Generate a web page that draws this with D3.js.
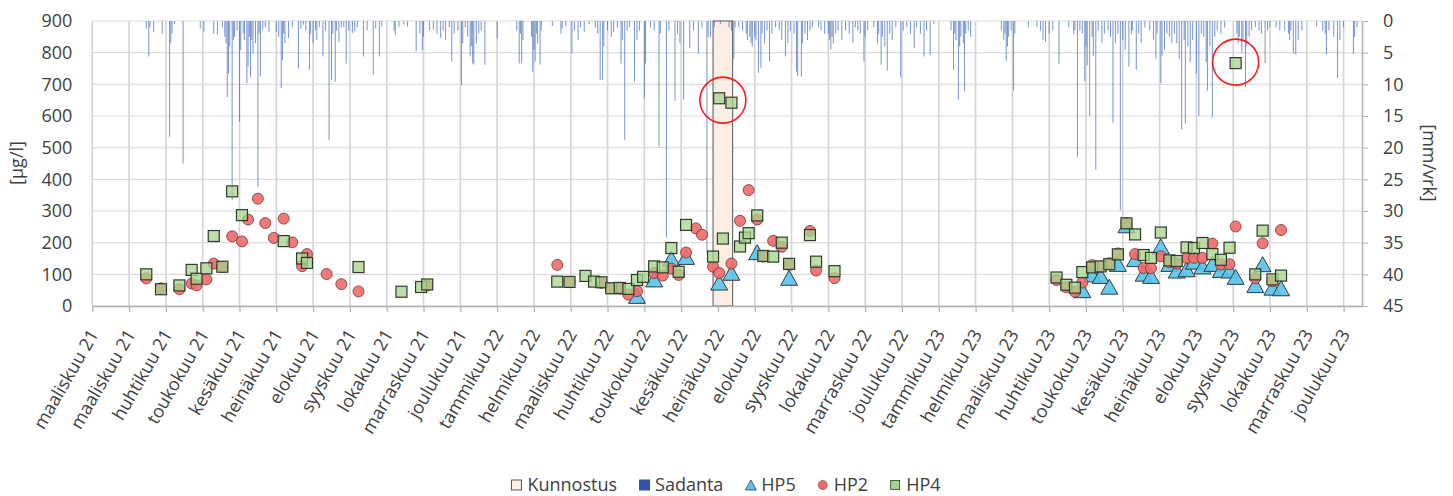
<!DOCTYPE html>
<html>
<head>
<meta charset="utf-8">
<script src="https://cdn.jsdelivr.net/npm/d3@7"></script>
<style>
body { margin: 0; background: #fff; }
svg text { font-family: "Open Sans", sans-serif; fill: #404040; }
</style>
</head>
<body>
<div id="chart"></div>
<script>
// x axis ticks (every 30 days, as in the original sheet)
var tickDates = ["2021-03-01","2021-03-31","2021-04-30","2021-05-30","2021-06-29","2021-07-29","2021-08-28",
	"2021-09-27","2021-10-27","2021-11-26","2021-12-26","2022-01-25","2022-02-24","2022-03-26","2022-04-25",
	"2022-05-25","2022-06-24","2022-07-24","2022-08-23","2022-09-22","2022-10-22","2022-11-21","2022-12-21",
	"2023-01-20","2023-02-19","2023-03-21","2023-04-20","2023-05-20","2023-06-19","2023-07-19","2023-08-18",
	"2023-09-17","2023-10-17","2023-11-16","2023-12-16"];
var monthNames = ["tammikuu","helmikuu","maaliskuu","huhtikuu","toukokuu","kesäkuu","heinäkuu",
	"elokuu","syyskuu","lokakuu","marraskuu","joulukuu"];
var yTicks = [0,100,200,300,400,500,600,700,800,900];
var rainTicks = [0,5,10,15,20,25,30,35,40,45];

// Kunnostus (restoration) period
var kunnostus = ["2022-07-20","2022-08-05"];

// Sadanta, [day counted from 2021-03-01, mm/vrk]
var rainStart = "2021-03-01";
var sadanta = [[44,1.2],[46,5.6],[47,1.0],[50,1.7],[57,2.0],[63,18.3],[64,3.5],[65,2.0],[67,0.5],[74,22.5],
	[88,1.2],[91,1.7],[99,2.0],[102,2.2],[106,1.0],[108,2.5],[109,3.5],[110,12],[111,8.3],[112,4.0],[114,28.3],
	[115,3.0],[116,2.5],[118,1.5],[120,15.9],[121,4.6],[123,2.0],[124,3.0],[126,9.8],[127,7.2],[128,2.5],[129,8.8],
	[130,3.0],[131,5.1],[133,3.5],[135,26.2],[136,2.0],[137,8.8],[139,1.4],[141,1.0],[144,1.7],[150,1.7],[152,2.5],
	[154,10.6],[155,6.2],[156,2.0],[157,3.5],[160,2.7],[163,1.0],[168,7.5],[170,1.2],[172,0.6],[174,1.5],[177,7.7],
	[178,2.0],[180,3.5],[182,1.5],[183,3.0],[185,1.0],[188,5.6],[190,1.5],[193,18.8],[195,9.3],[196,2.0],[198,9.6],
	[199,1.5],[201,3.3],[203,1.0],[205,1.0],[207,6.7],[209,1.5],[212,1.9],[214,1.7],[216,1.0],[221,5.6],[224,1.5],
	[229,8.5],[231,1.2],[234,5.6],[236,0.9],[246,1.5],[247,2.2],[250,0.9],[254,0.5],[257,0.9],[264,4.8],[267,2.0],
	[269,4.6],[270,2.5],[275,1.5],[278,1.4],[281,2.0],[284,2.7],[286,1.5],[288,3.0],[291,1.0],[293,6.4],[295,2.0],
	[298,1.5],[301,10.1],[302,3.5],[304,1.0],[306,2.5],[308,5.6],[309,4.0],[310,6.7],[311,6.9],[313,3.5],[315,2.0],
	[317,1.5],[320,6.9],[330,2.7],
	[346,1.5],[348,6.7],[349,2.0],[350,6.6],[351,3.0],[358,2.5],[359,8.0],[360,4.5],[361,6.4],[362,2.0],[363,3.5],
	[365,6.9],[366,1.5],[375,0.8],[382,2.0],[383,1.2],[386,0.8],[391,5.1],[393,1.5],[396,3.0],[398,1.0],[401,1.7],
	[405,0.5],[410,1.0],[412,2.0],[414,9.3],[416,9.3],[417,4.0],[420,1.5],[423,2.5],[425,1.7],[428,1.0],[431,6.7],
	[432,3.0],[434,18.8],[436,1.5],[438,1.0],[442,9.6],[444,3.0],[446,1.5],[450,12.2],[451,6.7],[455,1.0],[458,1.5],
	[462,19.8],[463,2.0],[468,34.2],[470,1.5],[475,12.6],[477,2.0],[479,3.5],[482,12.4],[487,4.3],[490,1.5],
	[494,5.2],[497,1.0],[501,36.6],[502,2.5],[504,2.5],[507,1.0],[512,0.5],[519,1.0],[521,1.5],[523,6.0],[524,1.0],
	[527,1.0],[530,1.5],[533,2.0],[534,3.0],[536,2.5],[537,3.5],[538,4.0],[540,2.5],[541,3.0],[543,8.2],[545,7.4],
	[546,2.0],[548,3.5],[550,1.5],[552,6.4],[554,2.0],[557,1.0],[560,1.5],[562,3.0],[565,5.6],[567,3.5],[569,1.5],
	[572,2.0],[574,8.0],[575,8.7],[578,8.8],[579,3.5],[581,2.0],[583,3.0],[585,1.5],[587,1.0],[592,1.0],[594,1.5],
	[597,2.0],[600,2.0],[601,3.0],[602,4.5],[603,2.5],[604,3.5],[606,2.0],[608,1.5],[611,3.0],[614,1.5],[617,2.0],
	[620,3.5],[622,1.0],[624,1.5],[626,2.0],[629,6.4],[630,2.5],[632,1.5],[637,1.0],[640,3.5],[641,2.0],[643,6.9],
	[644,2.5],[646,4.0],[648,7.8],[650,2.0],[652,3.0],[655,1.0],[659,8.9],[661,1.5],[664,1.0],[667,2.0],[670,4.3],
	[672,1.0],[675,2.0],[678,5.6],[680,1.5],[683,5.4],[686,0.5],
	[700,1.5],[702,7.7],[703,2.0],[704,3.0],[706,12.4],[707,4.0],[708,2.5],[710,3.5],[711,11.1],[712,2.0],[714,1.5],
	[716,2.5],[741,1.5],[743,3.0],[744,2.0],[745,6.3],[746,4.0],[747,2.5],[749,1.5],[751,11.0],[752,2.0],[763,1.0],
	[770,1.0],[773,1.5],[775,3.0],[777,3.3],[780,2.0],[783,1.5],[788,6.8],[796,1.0],[800,2.0],[801,1.5],[803,21.5],
	[805,1.5],[807,2.0],[809,9.5],[810,4.0],[811,7.0],[813,15.0],[815,2.5],[816,5.5],[818,23.5],[820,1.5],[823,3.5],
	[825,2.0],[828,1.5],[830,2.5],[832,16.1],[834,3.5],[836,2.0],[838,29.9],[840,3.0],[842,4.5],[845,7.2],[847,2.0],
	[848,1.5],[851,7.7],[853,2.0],[855,3.5],[858,1.0],[862,1.5],[865,3.0],[867,6.0],[868,2.0],[871,9.8],[872,5.5],
	[874,4.5],[876,2.0],[878,2.5],[880,3.5],[882,2.0],[884,3.5],[886,6.0],[888,17.1],[890,3.0],[891,16.2],[893,4.0],
	[895,6.5],[897,3.0],[900,8.3],[902,15.0],[904,2.0],[906,2.5],[908,6.5],[909,11.0],[911,4.0],[913,15.2],[915,2.5],
	[917,1.5],[920,2.0],[923,1.0],[933,2.0],[934,3.5],[935,2.5],[937,5.0],[938,3.0],[940,10.5],[941,4.0],[943,2.5],
	[945,1.5],[948,1.0],[951,1.5],[953,2.0],[956,6.6],[958,1.5],[960,1.0],[965,1.0],[968,1.5],[972,1.5],[975,2.0],
	[976,3.0],[977,1.5],[979,5.1],[981,5.3],[983,3.0],[986,1.5],[998,0.8],[1003,1.5],[1005,2.0],[1006,5.3],
	[1008,1.5],[1012,2.5],[1015,9.0],[1017,3.0],[1020,1.0],[1028,5.2],[1029,2.5],[1031,1.0]];

// HP5 [date, µg/l]
var hp5 = [["2022-05-19",32],["2022-06-02",84],["2022-06-16",150],["2022-06-28",155],["2022-07-25",74],
	["2022-08-04",105],["2022-08-25",170],["2022-09-20",89],
	["2023-05-17",50],["2023-05-25",100],["2023-06-01",95],["2023-06-08",61],["2023-06-15",133],["2023-06-22",255],
	["2023-06-29",148],["2023-07-06",102],["2023-07-12",95],["2023-07-20",188],["2023-07-27",133],["2023-08-02",112],
	["2023-08-10",116],["2023-08-16",140],["2023-08-23",125],["2023-08-31",133],["2023-09-07",114],["2023-09-14",112],
	["2023-09-19",92],["2023-10-05",66],["2023-10-11",132],["2023-10-19",58],["2023-10-26",56]];

// HP2 [date, µg/l]
var hp2 = [["2021-04-14",87],["2021-04-26",56],["2021-05-11",53],["2021-05-21",71],["2021-05-25",65],
	["2021-06-02",84],["2021-06-08",134],["2021-06-15",123],["2021-06-23",220],["2021-07-01",204],["2021-07-06",273],
	["2021-07-14",339],["2021-07-20",262],["2021-07-27",215],["2021-08-04",276],["2021-08-11",201],["2021-08-19",126],
	["2021-08-23",164],["2021-09-08",101],["2021-09-20",69],["2021-10-04",46],["2021-11-29",65],
	["2022-03-15",130],["2022-03-25",76],["2022-04-20",73],["2022-04-28",56],["2022-05-05",54],["2022-05-12",36],
	["2022-05-19",47],["2022-06-02",104],["2022-06-09",96],["2022-06-16",118],["2022-06-22",98],["2022-06-28",169],
	["2022-07-06",245],["2022-07-11",225],["2022-07-20",124],["2022-07-25",104],["2022-08-04",134],["2022-08-11",269],
	["2022-08-18",366],["2022-08-25",273],["2022-08-30",156],["2022-09-07",206],["2022-09-14",187],["2022-09-20",130],
	["2022-10-07",237],["2022-10-12",112],["2022-10-27",88],
	["2023-04-26",82],["2023-05-04",59],["2023-05-11",45],["2023-05-17",74],["2023-05-25",129],["2023-06-01",124],
	["2023-06-08",135],["2023-06-15",166],["2023-06-22",262],["2023-06-29",164],["2023-07-06",120],["2023-07-12",119],
	["2023-07-20",157],["2023-07-27",138],["2023-08-02",134],["2023-08-10",152],["2023-08-16",152],["2023-08-23",152],
	["2023-08-31",197],["2023-09-07",131],["2023-09-14",132],["2023-09-19",251],["2023-10-05",88],["2023-10-11",198],
	["2023-10-19",78],["2023-10-26",240]];

// HP4 [date, µg/l]
var hp4 = [["2021-04-14",100],["2021-04-26",53],["2021-05-11",65],["2021-05-21",114],["2021-05-25",86],
	["2021-06-02",119],["2021-06-08",221],["2021-06-15",124],["2021-06-23",362],["2021-07-01",287],["2021-08-04",205],
	["2021-08-19",150],["2021-08-23",136],["2021-10-04",123],["2021-11-08",45],["2021-11-24",60],["2021-11-29",68],
	["2022-03-15",77],["2022-03-25",76],["2022-04-07",95],["2022-04-14",77],["2022-04-20",75],["2022-04-28",56],
	["2022-05-05",57],["2022-05-12",54],["2022-05-19",82],["2022-05-24",92],["2022-06-02",125],["2022-06-09",122],
	["2022-06-16",183],["2022-06-22",108],["2022-06-28",256],["2022-07-20",156],["2022-07-25",656],["2022-07-28",213],
	["2022-08-04",642],["2022-08-11",188],["2022-08-15",216],["2022-08-18",230],["2022-08-25",286],["2022-08-30",158],
	["2022-09-07",156],["2022-09-14",200],["2022-09-20",133],["2022-10-07",224],["2022-10-12",140],["2022-10-27",110],
	["2023-04-26",90],["2023-05-04",67],["2023-05-11",58],["2023-05-17",107],["2023-05-25",122],["2023-06-01",125],
	["2023-06-08",132],["2023-06-15",163],["2023-06-22",261],["2023-06-29",226],["2023-07-06",161],["2023-07-12",152],
	["2023-07-20",232],["2023-07-27",144],["2023-08-02",142],["2023-08-10",185],["2023-08-16",183],["2023-08-23",199],
	["2023-08-31",164],["2023-09-07",146],["2023-09-14",184],["2023-09-19",767],["2023-10-05",100],["2023-10-11",238],
	["2023-10-19",84],["2023-10-26",96]];

// red rings drawn around the outliers
var highlights = [["2022-07-28",650],["2023-09-19",770]];

var legendItems = ["Kunnostus","Sadanta","HP5","HP2","HP4"];

var W = 1453, H = 496;
// plot area (note: "top" is reserved on window, so use other names)
var plotL = 92.3, plotR = 1362, plotT = 21, plotB = 306;
var parse = d3.utcParse("%Y-%m-%d");

var x = d3.scaleUtc().domain([parse("2021-03-01"), parse("2023-12-31")]).range([plotL, plotR]);
var y = d3.scaleLinear().domain([0, 900]).range([plotB, plotT]);
var yR = d3.scaleLinear().domain([0, 45]).range([plotT, plotB]);

var svg = d3.select("#chart").append("svg")
	.attr("width", W)
	.attr("height", H);

// grid
svg.append("g").selectAll("line").data(yTicks).enter()
	.append("line")
	.attr("x1", plotL).attr("x2", plotR)
	.attr("y1", function(d) { return y(d); })
	.attr("y2", function(d) { return y(d); })
	.attr("stroke", "#dcdcdc")
	.attr("stroke-width", 1.2);
svg.append("g").selectAll("line").data(tickDates).enter()
	.append("line")
	.attr("x1", function(d) { return x(parse(d)); })
	.attr("x2", function(d) { return x(parse(d)); })
	.attr("y1", plotT).attr("y2", plotB)
	.attr("stroke", "#d4d4d4")
	.attr("stroke-width", 1.6);

// kunnostus period
svg.append("rect")
	.attr("x", x(parse(kunnostus[0])))
	.attr("width", x(parse(kunnostus[1])) - x(parse(kunnostus[0])))
	.attr("y", y(900))
	.attr("height", y(0) - y(900))
	.attr("fill", "#fdeee4")
	.attr("stroke", "#555")
	.attr("stroke-width", 1);

// rain bars hanging from the top
var start = parse(rainStart);
svg.append("g").selectAll("rect").data(sadanta).enter()
	.append("rect")
	.attr("x", function(d) { return x(d3.utcDay.offset(start, d[0])) - 0.5; })
	.attr("y", yR(0))
	.attr("width", 1)
	.attr("height", function(d) { return yR(d[1]) - yR(0); })
	.attr("fill", "#4a70bf")
	.attr("opacity", 0.75);

// axes
var fmt = function(d) { return monthNames[d.getUTCMonth()] + " " + String(d.getUTCFullYear()).slice(2); };
var xAxis = svg.append("g")
	.attr("transform", "translate(0," + plotB + ")")
	.call(d3.axisBottom(x).tickValues(tickDates.map(parse)).tickFormat(fmt).tickSize(6).tickSizeOuter(0));
xAxis.select(".domain").attr("stroke", "#b0b0b0").attr("stroke-width", 1.5);
xAxis.selectAll(".tick line").attr("stroke", "#b0b0b0").attr("stroke-width", 1.2);
xAxis.selectAll(".tick text")
	.attr("x", 0).attr("y", 0).attr("dy", "0.35em")
	.attr("transform", "translate(1,25) rotate(-60)")
	.attr("text-anchor", "end")
	.style("font-size", "18px");

var yAxis = svg.append("g")
	.attr("transform", "translate(" + plotL + ",0)")
	.call(d3.axisLeft(y).tickValues(yTicks).tickSize(0).tickPadding(20));
yAxis.select(".domain").remove();
yAxis.selectAll("text").style("font-size", "18px");

var rAxis = svg.append("g")
	.attr("transform", "translate(" + plotR + ",0)")
	.call(d3.axisRight(yR).tickValues(rainTicks).tickSize(6).tickSizeOuter(0).tickPadding(15));
rAxis.select(".domain").attr("stroke", "#b0b0b0").attr("stroke-width", 1.5);
rAxis.selectAll(".tick line").attr("stroke", "#b0b0b0");
rAxis.selectAll("text").style("font-size", "18px");

svg.selectAll(".tick text").attr("fill", "#404040").attr("font-family", "Open Sans, sans-serif");

svg.append("text")
	.attr("transform", "translate(23,163) rotate(-90)")
	.attr("text-anchor", "middle")
	.style("font-size", "18px")
	.text("[µg/l]");
svg.append("text")
	.attr("transform", "translate(1423,163) rotate(90)")
	.attr("text-anchor", "middle")
	.style("font-size", "18px")
	.text("[mm/vrk]");

// markers
var tri = "M0,-7.5L8.5,7.5L-8.5,7.5Z";
svg.append("g").selectAll("path").data(hp5).enter()
	.append("path")
	.attr("d", tri)
	.attr("transform", function(d) { return "translate(" + x(parse(d[0])) + "," + y(d[1]) + ")"; })
	.attr("fill", "#55c4ee")
	.attr("fill-opacity", 0.9)
	.attr("stroke", "#3a3a3a")
	.attr("stroke-width", 1);

svg.append("g").selectAll("circle").data(hp2).enter()
	.append("circle")
	.attr("cx", function(d) { return x(parse(d[0])); })
	.attr("cy", function(d) { return y(d[1]); })
	.attr("r", 5.5)
	.attr("fill", "#f26a6a")
	.attr("fill-opacity", 0.9)
	.attr("stroke", "#6e3434")
	.attr("stroke-width", 0.8);

svg.append("g").selectAll("rect").data(hp4).enter()
	.append("rect")
	.attr("x", function(d) { return x(parse(d[0])) - 5.5; })
	.attr("y", function(d) { return y(d[1]) - 5.5; })
	.attr("width", 11)
	.attr("height", 11)
	.attr("fill", "#a6d38a")
	.attr("fill-opacity", 0.75)
	.attr("stroke", "#2f3a2f")
	.attr("stroke-width", 1.2);

svg.append("g").selectAll("circle").data(highlights).enter()
	.append("circle")
	.attr("cx", function(d) { return x(parse(d[0])); })
	.attr("cy", function(d) { return y(d[1]); })
	.attr("r", 23)
	.attr("fill", "none")
	.attr("stroke", "#ff1a1a")
	.attr("stroke-width", 1.6);

// legend
var legend = svg.append("g");
var lx = 0;
legendItems.forEach(function(name, i) {
	var g = legend.append("g").attr("transform", "translate(" + lx + ",0)");
	if (i == 0) {
		g.append("rect").attr("x", 0).attr("y", -5).attr("width", 10).attr("height", 10)
			.attr("fill", "#fdeee4").attr("stroke", "#555");
	} else if (i == 1) {
		g.append("rect").attr("x", 0).attr("y", -5.5).attr("width", 11).attr("height", 11)
			.attr("fill", "#2f55a4");
	} else if (i == 2) {
		g.append("path").attr("d", "M5.5,-5L11,5L0,5Z").attr("fill", "#55c4ee").attr("stroke", "#3a3a3a").attr("stroke-width", 0.8);
	} else if (i == 3) {
		g.append("circle").attr("cx", 5).attr("cy", 0).attr("r", 4.5).attr("fill", "#f26a6a").attr("stroke", "#6e3434").attr("stroke-width", 0.6);
	} else {
		g.append("rect").attr("x", 0.5).attr("y", -4.5).attr("width", 9).attr("height", 9)
			.attr("fill", "#a6d38a").attr("stroke", "#2f3a2f").attr("stroke-width", 0.8);
	}
	var t = g.append("text").attr("x", 16).attr("y", 0).attr("dy", "0.35em")
		.style("font-size", "18px").text(name);
	lx += 16 + t.node().getComputedTextLength() + 22;
});
var lw = lx - 22;
legend.attr("transform", "translate(" + (726 - lw / 2) + ",485)");
</script>
</body>
</html>
